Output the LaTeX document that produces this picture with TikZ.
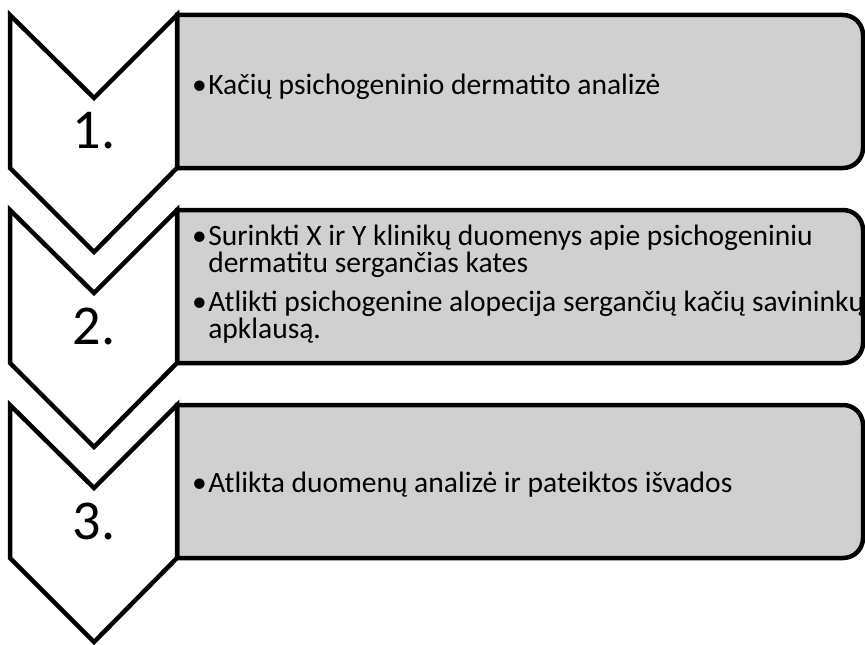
\documentclass[tikz,border=0pt]{standalone}
\usepackage{fontspec}
\setmainfont{Carlito}
\usetikzlibrary{positioning}
\definecolor{boxgray}{RGB}{208,208,208}
\tikzset{chev/.style={draw=black,fill=white,line width=3.2pt,line join=miter}}
\tikzset{panel/.style={draw=black,fill=boxgray,line width=3.2pt}}
\tikzset{stepnum/.style={font=\fontsize{40}{48}\selectfont,inner sep=0pt}}
\tikzset{item/.style={anchor=base west,align=left,inner sep=0pt,font=\fontsize{21}{19.2}\selectfont}}
\newcommand{\bul}{\llap{\textbullet\hspace{1pt}}}

\begin{document}
\begin{tikzpicture}[x=0.025cm,y=-0.025cm]
\useasboundingbox (0,0) rectangle (865,644);
\foreach \i / \t in {1/15,2/210,3/405} {
	\draw[panel] (177,\t) [rounded corners=0.5cm] -- (863,\t) -- (863,\t+153)
		[sharp corners] -- (177,\t+153) -- cycle;
	\draw[chev] (10,\t) -- (94,\t+83) -- (177,\t) -- (177,\t+153)
		-- (94,\t+237) -- (10,\t+153) -- cycle;
	\node[stepnum] (N\i) at (94,\t+116) {\i.};
}
% base anchor of a two-line item sits on its last line
\node[item] (T1) at (208,95) {\bul Kačių psichogeninio dermatito analizė};
\node[item] (T2a) at (208,272) {\bul Surinkti X ir Y klinikų duomenys apie psichogeniniu\\dermatitu sergančias kates};
\node[item] (T2b) at (208,338) {\bul Atlikti psichogenine alopecija sergančių kačių savininkų\\apklausą.};
\node[item] (T3) at (208,492) {\bul Atlikta duomenų analizė ir pateiktos išvados};
\end{tikzpicture}
\end{document}
